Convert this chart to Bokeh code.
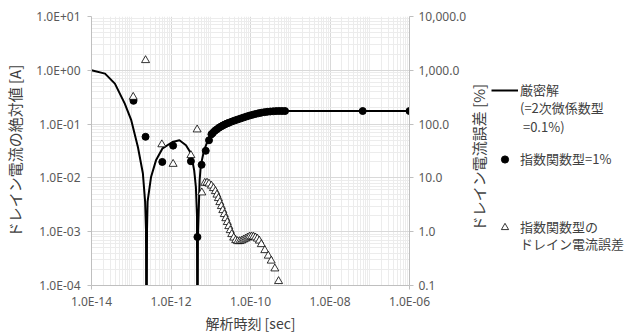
import math
from bokeh.plotting import figure
from bokeh.layouts import row
from bokeh.models import (Range1d, LogScale, LogAxis, FixedTicker, CustomJSTickFormatter,
                          NumeralTickFormatter, Legend, LegendItem, Label)
from bokeh.embed import file_html
from bokeh.resources import INLINE

# ---- data ----
# exact solution: |drain current| [A] vs time [s]
t_exact = [1.0e-14, 2.19e-14, 3.88e-14, 6.87e-14, 1.00e-13, 1.47e-13, 1.96e-13, 2.23e-13,
           2.35e-13, 2.42e-13, 2.49e-13, 2.58e-13, 3.15e-13, 4.19e-13, 6.14e-13, 1.09e-12,
           1.63e-12, 2.38e-12, 3.17e-12, 3.83e-12, 4.23e-12, 4.50e-12, 4.62e-12, 4.76e-12,
           5.25e-12, 5.62e-12, 6.79e-12, 9.04e-12, 1.32e-11, 1.90e-11, 2.84e-11, 4.16e-11,
           6.07e-11, 9.82e-11, 1.58e-10, 2.79e-10, 4.95e-10, 7.40e-10, 6.65e-08, 1.0e-06]
i_exact = [1.0, 0.868, 0.566, 0.240, 0.118, 0.0375, 0.0122, 0.00367,
           0.00105, 1e-07, 0.00105, 0.00367, 0.0104, 0.0212, 0.0355, 0.0465,
           0.0500, 0.0404, 0.0287, 0.0138, 0.00678, 0.00202, 1e-07, 0.00079,
           0.0090, 0.0171, 0.0326, 0.0568, 0.0767, 0.0910, 0.102, 0.113,
           0.126, 0.143, 0.159, 0.168, 0.173, 0.175, 0.175, 0.175]

# exponential-function type (1%): |drain current| [A]
t_exp = [1.14e-13, 2.29e-13, 6.04e-13, 1.13e-12, 3.17e-12, 4.62e-12, 5.89e-12, 7.48e-12,
         9.04e-12, 1.04e-11, 1.135e-11, 1.27e-11, 1.43e-11, 1.60e-11, 1.80e-11, 2.01e-11,
         2.25e-11, 2.53e-11, 2.84e-11, 3.37e-11, 4.00e-11, 4.74e-11, 5.64e-11, 6.68e-11,
         7.94e-11, 9.42e-11, 1.12e-10, 1.33e-10, 1.58e-10, 1.87e-10, 2.22e-10, 2.64e-10,
         3.13e-10, 3.72e-10, 4.42e-10, 5.25e-10, 6.22e-10, 7.40e-10, 6.65e-08, 1.0e-06]
i_exp = [0.271, 0.0581, 0.0198, 0.0398, 0.0204, 0.000797, 0.0175, 0.0319,
         0.0500, 0.0646, 0.0689, 0.0751, 0.0800, 0.0853, 0.0899, 0.0942,
         0.0983, 0.1022, 0.1057, 0.1113, 0.1167, 0.1217, 0.1271, 0.1327,
         0.1384, 0.1439, 0.1489, 0.1541, 0.1588, 0.1629, 0.1664, 0.1693,
         0.1715, 0.1730, 0.1745, 0.1752, 0.175, 0.175, 0.175, 0.175]

# drain-current error of the exponential-function type [%]
t_err = [1.12e-13, 2.29e-13, 5.88e-13, 1.13e-12, 3.17e-12, 4.55e-12, 5.96e-12,
         7.06e-12, 8.05e-12, 9.04e-12, 1.04e-11, 1.17e-11, 1.31e-11, 1.43e-11, 1.56e-11,
         1.69e-11, 1.85e-11, 2.01e-11, 2.19e-11, 2.39e-11, 2.61e-11, 2.84e-11, 3.09e-11,
         3.37e-11, 3.78e-11, 4.24e-11, 4.74e-11, 5.32e-11, 5.97e-11, 6.68e-11, 7.50e-11,
         8.41e-11, 9.42e-11, 1.06e-10, 1.19e-10, 1.33e-10, 1.49e-10, 1.67e-10, 1.87e-10,
         2.29e-10, 2.79e-10, 3.32e-10, 4.10e-10, 5.09e-10]
err_pct = [319, 1535, 41.8, 18.1, 26.3, 79.0, 5.33,
           8.04, 8.11, 7.77, 7.13, 6.41, 5.64, 4.85, 4.18,
           3.52, 2.97, 2.50, 2.11, 1.77, 1.50, 1.26, 1.06,
           0.895, 0.771, 0.692, 0.663, 0.663, 0.678, 0.708, 0.738,
           0.771, 0.804, 0.811, 0.804, 0.777, 0.738, 0.678, 0.583,
           0.451, 0.356, 0.288, 0.206, 0.120]

x_major = [1e-14, 1e-12, 1e-10, 1e-8, 1e-6]
y_major = [1e-4, 1e-3, 1e-2, 1e-1, 1e0, 1e1]
pct_major = [0.1, 1, 10, 100, 1000, 10000]
x_minor = [k * 10.0 ** n for n in range(-14, -6) for k in range(1, 10) if not (k == 1 and n % 2 == 0)]
y_minor = [k * 10.0 ** n for n in range(-4, 1) for k in range(2, 10)]

x_title = "解析時刻 [sec]"
y_title = "ドレイン電流の絶対値 [A]"
y2_title = "ドレイン電流誤差 [%]"
# legend lines: (label, glyph key or None for a text-only line)
legend_lines = [("厳密解", "exact"), ("(=2次微係数型", None), (" =0.1%)", None),
                ("指数関数型=1%", "exp"), ("指数関数型の", "err"), ("ドレイン電流誤差", None)]
# offsets (px above the side panel's frame bottom) of each legend line
legend_line_y = [186, 168, 149, 117, 49, 32]

TICK_FONT = "Noto Sans"
CJK_FONT = "Noto Sans CJK JP"
TXT = "#595959"
TITLE_C = "#404040"
AX = "#bfbfbf"

p = figure(width=469, height=336, x_axis_type="log", y_axis_type="log",
           x_range=Range1d(1e-14, 1e-6), y_range=Range1d(1e-4, 10),
           output_backend="svg", toolbar_location=None,
           min_border_left=91, min_border_right=56, min_border_top=16, min_border_bottom=51)
p.outline_line_color = None
p.background_fill_color = "white"
p.border_fill_color = "white"

log_fmt = CustomJSTickFormatter(code="""
const e = Math.round(Math.log10(tick));
const a = Math.abs(e);
return "1.0E" + (e < 0 ? "-" : "+") + (a < 10 ? "0" + a : "" + a);
""")

p.xaxis.ticker = FixedTicker(ticks=x_major, minor_ticks=x_minor)
p.yaxis.ticker = FixedTicker(ticks=y_major, minor_ticks=y_minor)
p.xgrid.ticker = FixedTicker(ticks=x_major, minor_ticks=x_minor)
p.ygrid.ticker = FixedTicker(ticks=y_major, minor_ticks=y_minor)
p.xaxis.formatter = log_fmt
p.yaxis.formatter = log_fmt
p.xaxis.axis_label = x_title
p.yaxis.axis_label = y_title

p.extra_y_ranges = {"pct": Range1d(0.1, 10000)}
p.extra_y_scales = {"pct": LogScale()}
ra = LogAxis(y_range_name="pct", ticker=FixedTicker(ticks=pct_major),
             formatter=NumeralTickFormatter(format="0,0.0"))
p.add_layout(ra, "right")

for ax in [p.xaxis[0], p.yaxis[0], ra]:
    ax.axis_line_color = AX
    ax.major_tick_line_color = AX
    ax.major_tick_in = 0
    ax.major_tick_out = 4
    ax.minor_tick_line_color = None
    ax.major_label_text_font = TICK_FONT
    ax.major_label_text_font_size = "12px"
    ax.major_label_text_color = TXT
    ax.axis_label_text_font = CJK_FONT
    ax.axis_label_text_font_size = "15px"
    ax.axis_label_text_font_style = "normal"
    ax.axis_label_text_color = TITLE_C
    ax.major_label_standoff = 7
ra.major_label_standoff = 5
p.xaxis.major_label_standoff = 3
p.xaxis.axis_label_standoff = 0
p.xaxis.axis_label_text_font_size = "14px"
p.yaxis.axis_label_standoff = 8

for g in [p.xgrid[0], p.ygrid[0]]:
    g.grid_line_color = "#d9d9d9"
    g.grid_line_width = 1
    g.minor_grid_line_color = "#ececec"
    g.minor_grid_line_width = 1

EXACT_STYLE = dict(line_color="black", line_width=2)
EXP_STYLE = dict(marker="circle", size=7, fill_color="black", line_color="black")
ERR_STYLE = dict(marker="triangle", size=8, fill_color="white", line_color="black", line_width=0.8)

p.line(t_exact, i_exact, **EXACT_STYLE)
p.scatter(t_exp, i_exp, **EXP_STYLE)
p.scatter(t_err, err_pct, y_range_name="pct", **ERR_STYLE)

# ---- side panel: right-axis title and legend ----
# (its ranges lie far from the data, so the legend proxies below draw nothing in the panel)
q = figure(width=168, height=336, output_backend="svg", toolbar_location=None,
           x_range=Range1d(10, 11), y_range=Range1d(10, 11),
           x_axis_location=None, y_axis_location=None,
           min_border_left=0, min_border_right=0, min_border_top=0, min_border_bottom=0)
q.grid.visible = False
q.outline_line_color = None
q.background_fill_color = "white"
q.border_fill_color = "white"

proxy = {
    "exact": q.line(t_exact, i_exact, **EXACT_STYLE),
    "exp": q.scatter(t_exp, i_exp, **EXP_STYLE),
    "err": q.scatter(t_err, err_pct, **ERR_STYLE),
    None: q.scatter(t_exp, i_exp, marker="circle", size=1, fill_alpha=0, line_alpha=0),
}

q.add_layout(Label(x=9, y=128, x_units="screen", y_units="screen", text=y2_title,
                   angle=math.pi / 2, text_align="center", text_baseline="middle",
                   text_font=CJK_FONT, text_font_size="15px", text_color=TITLE_C))

for (lab, key), yoff in zip(legend_lines, legend_line_y):
    lg = Legend(items=[LegendItem(label=lab, renderers=[proxy[key]])],
                location=(22, yoff), padding=0, margin=0, spacing=0,
                label_height=18, glyph_height=18, glyph_width=27, label_standoff=2,
                border_line_color=None, background_fill_alpha=0)
    lg.label_text_font = CJK_FONT
    lg.label_text_font_size = "13px"
    lg.label_text_color = TITLE_C
    q.add_layout(lg, "center")

layout = row(p, q)
open("out.html", "w").write(file_html(layout, INLINE))
